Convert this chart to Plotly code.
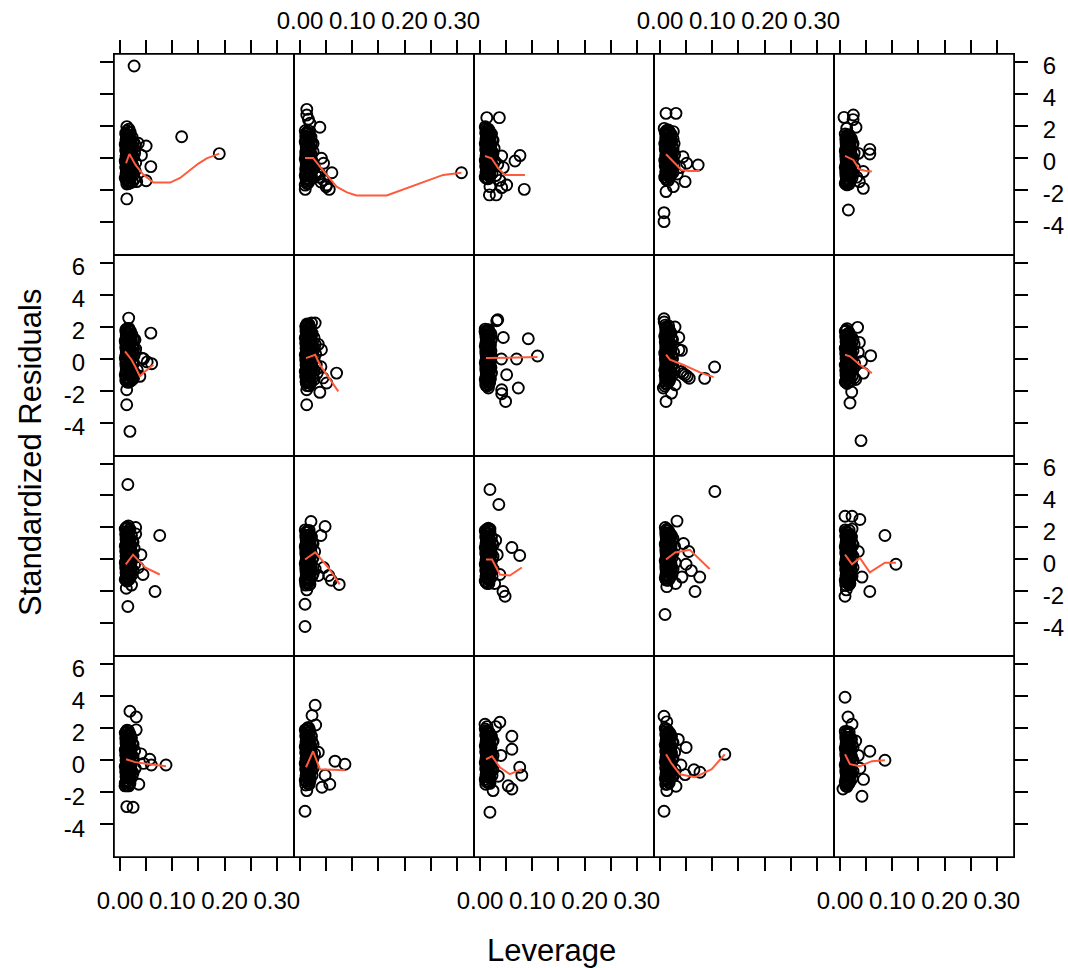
import plotly.graph_objects as go

# ---------------------------------------------------------------------------
# Standardized residuals vs leverage, one panel per model (4 rows x 5 columns).
# pts_*  : individual (leverage, standardized residual) pairs
# core_* : the dense low-leverage bulk of each panel, leverage -> residuals
# fit_*  : smoother through each panel
# ---------------------------------------------------------------------------

pts_r1c1 = [(0.027, 5.75), (0.118, 1.33), (0.190, 0.27), (0.013, -2.56), (0.059, -0.54), (0.050, 0.75),
            (0.041, 0.17), (0.050, -1.42), (0.032, -1.48), (0.013, -1.63), (0.013, 1.96), (0.035, 0.92),
            (0.011, 1.55), (0.012, 1.2), (0.010, 0.85), (0.011, 0.5), (0.012, 0.15), (0.010, -0.2), (0.011, -0.55),
            (0.012, -0.9), (0.010, -1.25), (0.017, 1.8), (0.016, 1.4), (0.018, 1.05), (0.017, 0.7), (0.016, 0.35),
            (0.018, 0.0), (0.017, -0.35), (0.016, -0.7), (0.018, -1.05), (0.017, -1.4), (0.016, -1.6), (0.023, 1.3),
            (0.022, 0.95), (0.024, 0.6), (0.023, 0.25), (0.022, -0.1), (0.024, -0.45), (0.023, -0.8), (0.022, -1.15),
            (0.024, -1.5), (0.029, 0.8), (0.028, 0.3), (0.030, -0.3), (0.029, -0.8), (0.028, -1.3)]
core_r1c1 = {0.0115: [1.46, 1.11, 0.76, 0.41, 0.06, -0.29, -0.64, -0.99, -1.34],
             0.0135: [1.7, 1.38, 1.02, 0.68, 0.32, -0.02, -0.38, -0.72, -1.08, -1.42],
             0.0175: [1.62, 1.27, 0.92, 0.57, 0.22, -0.13, -0.48, -0.83, -1.18, -1.5],
             0.0195: [1.6, 1.22, 0.88, 0.52, 0.18, -0.18, -0.52, -0.88, -1.22, -1.55],
             0.026: [1.0, 0.62, 0.08, -0.62, -1.05]}
fit_r1c1 = [(0.0115, -0.33), (0.018, 0.25), (0.030, -0.45), (0.045, -1.05), (0.064, -1.54), (0.096, -1.54),
            (0.115, -1.25), (0.134, -0.75), (0.150, -0.35), (0.166, -0.02), (0.190, 0.27)]

pts_r1c2 = [(0.013, 3.04), (0.013, 2.69), (0.016, 2.42), (0.019, 2.17), (0.038, 1.92), (0.041, -0.02), (0.045, -0.33),
            (0.061, -0.92), (0.038, -1.0), (0.045, -1.38), (0.051, -1.69), (0.056, -1.96), (0.050, -1.8), (0.010, -1.96),
            (0.010, -1.7), (0.309, -0.92), (0.033, -0.9), (0.036, -1.2), (0.040, -1.5), (0.028, -0.6), (0.030, -1.1),
            (0.010, 1.7), (0.011, 1.35), (0.010, 1.0), (0.012, 0.65), (0.011, 0.3), (0.010, -0.05), (0.012, -0.4),
            (0.011, -0.75), (0.010, -1.1), (0.012, -1.45), (0.016, 1.55), (0.017, 1.2), (0.015, 0.85), (0.016, 0.5),
            (0.017, 0.15), (0.015, -0.2), (0.016, -0.55), (0.017, -0.9), (0.015, -1.25), (0.016, -1.55), (0.021, 1.3),
            (0.022, 0.95), (0.020, 0.6), (0.021, 0.25), (0.022, -0.1), (0.020, -0.45), (0.021, -0.8), (0.022, -1.15)]
core_r1c2 = {0.0115: [1.52, 1.17, 0.82, 0.47, 0.12, -0.23, -0.58, -0.93, -1.28],
             0.0135: [1.62, 1.18, 0.82, 0.48, 0.12, -0.22, -0.58, -0.92, -1.28, -1.6],
             0.0175: [1.68, 1.33, 0.98, 0.63, 0.28, -0.07, -0.42, -0.77, -1.12, -1.42],
             0.0185: [1.45, 1.08, 0.72, 0.38, 0.02, -0.32, -0.68, -1.02, -1.38],
             0.025: [0.9, 0.4, -0.3, -0.7]}
fit_r1c2 = [(0.0096, 0.0), (0.025, 0.0), (0.038, -0.54), (0.052, -1.1), (0.070, -1.79), (0.090, -2.15), (0.108, -2.35),
            (0.166, -2.35), (0.200, -1.95), (0.229, -1.58), (0.274, -1.06), (0.309, -0.92)]

pts_r1c3 = [(0.013, 2.52), (0.037, 2.52), (0.0765, 0.15), (0.067, -0.19), (0.0415, 0.125), (0.0446, -0.6),
            (0.0847, -1.96), (0.051, -1.69), (0.0415, -1.85), (0.019, -1.79), (0.018, -2.31), (0.031, -2.31),
            (0.038, -1.4), (0.030, -1.1), (0.034, -0.4),
            (0.010, 1.95), (0.011, 1.6), (0.012, 1.25), (0.010, 0.9), (0.011, 0.55), (0.012, 0.2), (0.010, -0.15),
            (0.011, -0.5), (0.012, -0.85), (0.010, -1.2), (0.016, 1.8), (0.017, 1.45), (0.015, 1.1), (0.016, 0.75),
            (0.017, 0.4), (0.015, 0.05), (0.016, -0.3), (0.017, -0.65), (0.015, -1.0), (0.016, -1.3), (0.022, 1.5),
            (0.023, 1.15), (0.021, 0.8), (0.022, 0.45), (0.023, 0.1), (0.021, -0.25), (0.022, -0.6), (0.023, -0.95),
            (0.027, 0.6), (0.028, -0.2)]
core_r1c3 = {0.0115: [1.86, 1.51, 1.16, 0.81, 0.46, 0.11, -0.24, -0.59, -0.94, -1.25],
             0.0135: [1.78, 1.42, 1.08, 0.72, 0.38, 0.02, -0.32, -0.68, -1.02, -1.3],
             0.0175: [1.7, 1.35, 1.0, 0.65, 0.3, -0.05, -0.4, -0.75, -1.1],
             0.019: [1.62, 1.28, 0.92, 0.58, 0.22, -0.12, -0.48, -0.82, -1.15],
             0.025: [1.1, 0.3, -0.5]}
fit_r1c3 = [(0.0096, 0.125), (0.022, -0.02), (0.035, -0.65), (0.048, -1.06), (0.086, -1.06)]

pts_r1c4 = [(0.0115, 2.79), (0.0306, 2.79), (0.0077, -3.42), (0.0077, -3.98), (0.073, -0.44), (0.048, -1.48),
            (0.0255, -1.79), (0.0115, -2.1), (0.044, 0.08), (0.051, -0.33), (0.008, 1.85), (0.0255, 1.65),
            (0.033, -1.0), (0.038, -0.6),
            (0.010, 1.6), (0.011, 1.25), (0.009, 0.9), (0.010, 0.55), (0.011, 0.2), (0.009, -0.15), (0.010, -0.5),
            (0.011, -0.85), (0.009, -1.2), (0.016, 1.75), (0.015, 1.4), (0.017, 1.05), (0.016, 0.7), (0.015, 0.35),
            (0.017, 0.0), (0.016, -0.35), (0.015, -0.7), (0.017, -1.05), (0.016, -1.4), (0.022, 1.45), (0.021, 1.1),
            (0.023, 0.75), (0.022, 0.4), (0.021, 0.05), (0.023, -0.3), (0.022, -0.65), (0.021, -1.0), (0.027, 0.9),
            (0.028, 0.2), (0.027, -0.5)]
core_r1c4 = {0.0115: [1.5, 1.15, 0.8, 0.45, 0.1, -0.25, -0.6, -0.95, -1.3],
             0.0125: [1.72, 1.42, 1.08, 0.72, 0.38, 0.02, -0.32, -0.68, -1.02, -1.38],
             0.0175: [1.62, 1.27, 0.92, 0.57, 0.22, -0.13, -0.48, -0.83, -1.18],
             0.019: [1.58, 1.22, 0.88, 0.52, 0.18, -0.18, -0.52, -0.88, -1.2],
             0.025: [1.2, 0.55, -0.15, -0.9]}
fit_r1c4 = [(0.0115, 0.23), (0.022, -0.125), (0.041, -0.75), (0.055, -0.81), (0.076, -0.81)]

pts_r1c5 = [(0.0077, 2.54), (0.0255, 2.69), (0.025, 2.4), (0.0306, 1.92), (0.0128, 1.85), (0.057, 0.54),
            (0.057, 0.25), (0.035, 0.29), (0.0446, -0.85), (0.0446, -1.9), (0.037, -1.48), (0.0128, -1.63),
            (0.016, -3.25), (0.032, -1.2),
            (0.010, 1.5), (0.011, 1.15), (0.012, 0.8), (0.010, 0.45), (0.011, 0.1), (0.012, -0.25), (0.010, -0.6),
            (0.011, -0.95), (0.012, -1.3), (0.010, -1.6), (0.016, 1.35), (0.017, 1.0), (0.015, 0.65), (0.016, 0.3),
            (0.017, -0.05), (0.015, -0.4), (0.016, -0.75), (0.017, -1.1), (0.015, -1.45), (0.022, 1.2), (0.023, 0.85),
            (0.021, 0.5), (0.022, 0.15), (0.023, -0.2), (0.021, -0.55), (0.022, -0.9), (0.023, -1.25), (0.027, 0.3),
            (0.028, -0.6)]
core_r1c5 = {0.0115: [1.3, 0.95, 0.6, 0.25, -0.1, -0.45, -0.8, -1.15, -1.5],
             0.0135: [1.42, 1.08, 0.72, 0.38, 0.02, -0.32, -0.68, -1.02, -1.38, -1.68],
             0.0175: [1.45, 1.1, 0.75, 0.4, 0.05, -0.3, -0.65, -1.0, -1.35, -1.62],
             0.019: [1.28, 0.92, 0.58, 0.22, -0.12, -0.48, -0.82, -1.18, -1.5],
             0.025: [0.9, 0.0, -1.0]}
fit_r1c5 = [(0.0096, 0.125), (0.0255, -0.125), (0.037, -0.71), (0.048, -0.8), (0.061, -0.85)]

pts_r2c1 = [(0.0166, 2.54), (0.059, 1.6), (0.0606, -0.31), (0.0415, 0.04), (0.045, 0.0), (0.0287, 1.19),
            (0.016, -1.48), (0.0128, -1.94), (0.0128, -2.88), (0.019, -4.54), (0.038, -1.1), (0.033, -0.7),
            (0.030, 0.6), (0.052, -0.2),
            (0.011, 1.8), (0.012, 1.45), (0.010, 1.1), (0.011, 0.75), (0.012, 0.4), (0.010, 0.05), (0.011, -0.3),
            (0.012, -0.65), (0.010, -1.0), (0.011, -1.35), (0.017, 1.9), (0.016, 1.55), (0.018, 1.2), (0.017, 0.85),
            (0.016, 0.5), (0.018, 0.15), (0.017, -0.2), (0.016, -0.55), (0.018, -0.9), (0.017, -1.25), (0.023, 1.5),
            (0.022, 1.15), (0.024, 0.8), (0.023, 0.45), (0.022, 0.1), (0.024, -0.25), (0.023, -0.6), (0.022, -0.95),
            (0.024, -1.3), (0.027, 0.2), (0.028, -0.9)]
core_r2c1 = {0.0115: [1.65, 1.3, 0.95, 0.6, 0.25, -0.1, -0.45, -0.8, -1.15],
             0.0135: [1.88, 1.62, 1.28, 0.92, 0.58, 0.22, -0.12, -0.48, -0.82, -1.18, -1.45],
             0.0175: [1.78, 1.43, 1.08, 0.73, 0.38, 0.03, -0.32, -0.67, -1.02, -1.35],
             0.020: [1.72, 1.38, 1.02, 0.68, 0.32, -0.02, -0.38, -0.72, -1.08, -1.4],
             0.026: [1.2, 0.6, -0.3, -1.2]}
fit_r2c1 = [(0.0096, 0.46), (0.022, -0.06), (0.030, -0.55), (0.038, -1.1), (0.048, -0.79), (0.0637, -0.375)]

pts_r2c2 = [(0.022, 2.23), (0.029, 2.23), (0.0128, 2.02), (0.022, 1.5), (0.041, 0.56), (0.070, -0.9), (0.038, -2.1),
            (0.0128, -1.94), (0.0128, -2.88), (0.051, -1.52), (0.0128, -1.5), (0.044, -1.2), (0.040, -0.5),
            (0.035, 0.9),
            (0.011, 2.0), (0.012, 1.65), (0.010, 1.3), (0.011, 0.95), (0.012, 0.6), (0.010, 0.25), (0.011, -0.1),
            (0.012, -0.45), (0.010, -0.8), (0.011, -1.15), (0.012, -1.5), (0.017, 2.15), (0.016, 1.8), (0.018, 1.45),
            (0.017, 1.1), (0.016, 0.75), (0.018, 0.4), (0.017, 0.05), (0.016, -0.3), (0.018, -0.65), (0.017, -1.0),
            (0.016, -1.35), (0.018, -1.7), (0.023, 1.6), (0.022, 1.25), (0.024, 0.9), (0.023, 0.55), (0.022, 0.2),
            (0.024, -0.15), (0.023, -0.5), (0.022, -0.85), (0.024, -1.2), (0.029, 0.9), (0.030, 0.3), (0.031, -0.4),
            (0.033, -0.9)]
core_r2c2 = {0.0115: [2.08, 1.73, 1.38, 1.03, 0.68, 0.33, -0.02, -0.37, -0.72, -1.07, -1.42],
             0.0135: [2.18, 1.82, 1.48, 1.12, 0.78, 0.42, 0.08, -0.28, -0.62, -0.98, -1.32, -1.68],
             0.0175: [1.98, 1.63, 1.28, 0.93, 0.58, 0.23, -0.12, -0.47, -0.82, -1.17, -1.52],
             0.020: [1.92, 1.58, 1.22, 0.88, 0.52, 0.18, -0.18, -0.52, -0.88, -1.22, -1.55],
             0.027: [1.3, 0.6, 0.0, -0.7, -1.3]}
fit_r2c2 = [(0.0115, 0.04), (0.029, 0.25), (0.038, -0.375), (0.055, -1.2), (0.0733, -2.04)]

pts_r2c3 = [(0.032, 2.375), (0.034, 2.44), (0.0096, 1.7), (0.0446, 1.33), (0.0924, 1.25), (0.110, 0.17),
            (0.070, -0.02), (0.041, -0.02), (0.051, -1.0), (0.0733, -1.83), (0.0415, -1.94), (0.0415, -2.19),
            (0.049, -2.67), (0.016, -1.83),
            (0.010, 1.85), (0.011, 1.5), (0.012, 1.15), (0.010, 0.8), (0.011, 0.45), (0.012, 0.1), (0.010, -0.25),
            (0.011, -0.6), (0.012, -0.95), (0.010, -1.3), (0.011, -1.65), (0.016, 1.7), (0.017, 1.35), (0.015, 1.0),
            (0.016, 0.65), (0.017, 0.3), (0.015, -0.05), (0.016, -0.4), (0.017, -0.75), (0.015, -1.1), (0.016, -1.45),
            (0.021, 1.55), (0.022, 1.2), (0.020, 0.85), (0.021, 0.5), (0.022, 0.15), (0.020, -0.2), (0.021, -0.55),
            (0.022, -0.9), (0.020, -1.25)]
core_r2c3 = {0.0115: [1.68, 1.33, 0.98, 0.63, 0.28, -0.07, -0.42, -0.77, -1.12, -1.47],
             0.0135: [1.78, 1.42, 1.08, 0.72, 0.38, 0.02, -0.32, -0.68, -1.02, -1.38, -1.72],
             0.0165: [1.82, 1.47, 1.12, 0.77, 0.42, 0.07, -0.28, -0.63, -0.98, -1.33, -1.62],
             0.0185: [1.62, 1.28, 0.92, 0.58, 0.22, -0.12, -0.48, -0.82, -1.18, -1.5]}
fit_r2c3 = [(0.0115, 0.04), (0.030, 0.06), (0.060, 0.07), (0.110, 0.10)]

pts_r2c4 = [(0.0077, 2.5), (0.008, 2.3), (0.0287, 1.98), (0.036, 1.33), (0.041, 0.52), (0.036, 0.56),
            (0.1045, -0.52), (0.0855, -1.23), (0.040, -0.8), (0.044, -0.92), (0.048, -1.0), (0.052, -1.1),
            (0.056, -1.22), (0.0115, -2.67), (0.022, -2.15), (0.0064, -1.83), (0.029, -1.63),
            (0.010, 2.1), (0.011, 1.75), (0.009, 1.4), (0.010, 1.05), (0.011, 0.7), (0.009, 0.35), (0.010, 0.0),
            (0.011, -0.35), (0.009, -0.7), (0.010, -1.05), (0.011, -1.4), (0.009, -1.7), (0.015, 1.9), (0.016, 1.55),
            (0.014, 1.2), (0.015, 0.85), (0.016, 0.5), (0.014, 0.15), (0.015, -0.2), (0.016, -0.55), (0.014, -0.9),
            (0.015, -1.25), (0.021, 1.6), (0.022, 1.25), (0.020, 0.9), (0.021, 0.55), (0.022, 0.2), (0.020, -0.15),
            (0.021, -0.5), (0.022, -0.85), (0.020, -1.2), (0.026, 0.4), (0.027, -0.7)]
core_r2c4 = {0.011: [1.92, 1.57, 1.22, 0.87, 0.52, 0.17, -0.18, -0.53, -0.88, -1.23, -1.58],
             0.0125: [2.0, 1.62, 1.28, 0.92, 0.58, 0.22, -0.12, -0.48, -0.82, -1.18, -1.55],
             0.0165: [2.05, 1.7, 1.35, 1.0, 0.65, 0.3, -0.05, -0.4, -0.75, -1.1, -1.45],
             0.018: [1.78, 1.42, 1.08, 0.72, 0.38, 0.02, -0.32, -0.68, -1.02, -1.38],
             0.024: [1.2, 0.0, -0.4, -1.0]}
fit_r2c4 = [(0.0115, 0.25), (0.019, -0.06), (0.044, -0.375), (0.0765, -0.85), (0.1026, -1.15)]

pts_r2c5 = [(0.0337, 1.96), (0.0587, 0.19), (0.041, -0.17), (0.0446, -0.9), (0.0224, -2.08), (0.0191, -2.77),
            (0.0402, -5.12), (0.037, 1.02), (0.030, -1.3), (0.035, 0.4),
            (0.010, 1.7), (0.011, 1.35), (0.012, 1.0), (0.010, 0.65), (0.011, 0.3), (0.012, -0.05), (0.010, -0.4),
            (0.011, -0.75), (0.012, -1.1), (0.010, -1.45), (0.016, 1.55), (0.017, 1.2), (0.015, 0.85), (0.016, 0.5),
            (0.017, 0.15), (0.015, -0.2), (0.016, -0.55), (0.017, -0.9), (0.015, -1.25), (0.022, 1.35), (0.023, 1.0),
            (0.021, 0.65), (0.022, 0.3), (0.023, -0.05), (0.021, -0.4), (0.022, -0.75), (0.023, -1.1), (0.027, 0.9),
            (0.028, -0.3), (0.027, -1.2)]
core_r2c5 = {0.0115: [1.78, 1.43, 1.08, 0.73, 0.38, 0.03, -0.32, -0.67, -1.02, -1.37],
             0.0135: [1.88, 1.52, 1.18, 0.82, 0.48, 0.12, -0.22, -0.58, -0.92, -1.28, -1.55],
             0.0175: [1.62, 1.27, 0.92, 0.57, 0.22, -0.13, -0.48, -0.83, -1.18, -1.45],
             0.019: [1.45, 1.08, 0.72, 0.38, 0.02, -0.32, -0.68, -1.02, -1.38],
             0.025: [1.2, 0.5, -0.6]}
fit_r2c5 = [(0.0096, 0.25), (0.019, 0.15), (0.038, -0.375), (0.061, -0.9)]

pts_r3c1 = [(0.015, 4.69), (0.076, 1.5), (0.067, -2.0), (0.015, -2.94), (0.044, -0.94), (0.030, 2.0), (0.030, 1.6),
            (0.040, 0.3), (0.035, -0.5), (0.012, -1.8), (0.022, -1.6),
            (0.010, 1.9), (0.011, 1.55), (0.012, 1.2), (0.010, 0.85), (0.011, 0.5), (0.012, 0.15), (0.010, -0.2),
            (0.011, -0.55), (0.012, -0.9), (0.010, -1.25), (0.016, 2.1), (0.017, 1.7), (0.015, 1.35), (0.016, 1.0),
            (0.017, 0.65), (0.015, 0.3), (0.016, -0.05), (0.017, -0.4), (0.015, -0.75), (0.016, -1.1), (0.022, 1.5),
            (0.023, 1.15), (0.021, 0.8), (0.022, 0.45), (0.023, 0.1), (0.021, -0.25), (0.022, -0.6), (0.023, -0.95),
            (0.027, 0.7), (0.028, -0.3)]
core_r3c1 = {0.0115: [1.98, 1.63, 1.28, 0.93, 0.58, 0.23, -0.12, -0.47, -0.82, -1.17],
             0.0135: [2.02, 1.72, 1.38, 1.02, 0.68, 0.32, -0.02, -0.38, -0.72, -1.08, -1.35],
             0.0175: [1.85, 1.5, 1.15, 0.8, 0.45, 0.1, -0.25, -0.6, -0.95, -1.25],
             0.019: [1.88, 1.32, 0.98, 0.62, 0.28, -0.08, -0.42, -0.78, -1.12],
             0.025: [1.1, 0.2, -0.7]}
fit_r3c1 = [(0.011, -0.3), (0.025, 0.3), (0.048, -0.5), (0.076, -0.94)]

pts_r3c2 = [(0.021, 2.375), (0.048, 2.06), (0.0096, -4.19), (0.0096, -2.8), (0.075, -1.56), (0.040, 1.5),
            (0.045, -0.5), (0.055, -1.0), (0.060, -1.3), (0.035, -1.0), (0.013, -1.9),
            (0.010, 1.85), (0.011, 1.5), (0.012, 1.15), (0.010, 0.8), (0.011, 0.45), (0.012, 0.1), (0.010, -0.25),
            (0.011, -0.6), (0.012, -0.95), (0.010, -1.3), (0.011, -1.6), (0.016, 1.7), (0.017, 1.35), (0.015, 1.0),
            (0.016, 0.65), (0.017, 0.3), (0.015, -0.05), (0.016, -0.4), (0.017, -0.75), (0.015, -1.1), (0.016, -1.45),
            (0.022, 1.4), (0.023, 1.05), (0.021, 0.7), (0.022, 0.35), (0.023, 0.0), (0.021, -0.35), (0.022, -0.7),
            (0.023, -1.05), (0.028, 0.5), (0.029, -0.6)]
core_r3c2 = {0.0115: [1.68, 1.33, 0.98, 0.63, 0.28, -0.07, -0.42, -0.77, -1.12, -1.47],
             0.0135: [1.78, 1.32, 0.98, 0.62, 0.28, -0.08, -0.42, -0.78, -1.12, -1.48],
             0.0175: [1.82, 1.47, 1.12, 0.77, 0.42, 0.07, -0.28, -0.63, -0.98, -1.33, -1.58],
             0.019: [1.55, 1.22, 0.88, 0.52, 0.18, -0.18, -0.52, -0.88, -1.22, -1.55],
             0.025: [1.0, 0.1, -0.9]}
fit_r3c2 = [(0.0096, 0.0), (0.029, 0.44), (0.054, -0.5), (0.076, -1.56)]

pts_r3c3 = [(0.019, 4.375), (0.036, 3.44), (0.019, 1.9), (0.061, 0.75), (0.076, 0.25), (0.038, -0.94), (0.044, -2.0),
            (0.048, -2.3), (0.030, 1.2), (0.033, 0.3), (0.028, -1.5),
            (0.010, 1.8), (0.011, 1.45), (0.012, 1.1), (0.010, 0.75), (0.011, 0.4), (0.012, 0.05), (0.010, -0.3),
            (0.011, -0.65), (0.012, -1.0), (0.010, -1.35), (0.016, 1.95), (0.017, 1.6), (0.015, 1.25), (0.016, 0.9),
            (0.017, 0.55), (0.015, 0.2), (0.016, -0.15), (0.017, -0.5), (0.015, -0.85), (0.016, -1.2), (0.017, -1.5),
            (0.022, 1.4), (0.023, 1.05), (0.021, 0.7), (0.022, 0.35), (0.023, 0.0), (0.021, -0.35), (0.022, -0.7),
            (0.023, -1.05)]
core_r3c3 = {0.0115: [1.7, 1.35, 1.0, 0.65, 0.3, -0.05, -0.4, -0.75, -1.1, -1.42],
             0.0135: [1.9, 1.62, 1.28, 0.92, 0.58, 0.22, -0.12, -0.48, -0.82, -1.18, -1.5],
             0.0175: [1.85, 1.5, 1.15, 0.8, 0.45, 0.1, -0.25, -0.6, -0.95, -1.3],
             0.019: [1.75, 1.22, 0.88, 0.52, 0.18, -0.18, -0.52, -0.88, -1.22],
             0.025: [0.9, 0.2, -0.6]}
fit_r3c3 = [(0.0115, 0.0), (0.023, 0.0), (0.038, -0.94), (0.057, -1.0), (0.080, -0.5)]

pts_r3c4 = [(0.105, 4.25), (0.0096, -3.44), (0.0325, 2.4), (0.076, -1.1), (0.067, -2.0), (0.042, -1.1), (0.045, 1.0),
            (0.055, 0.5), (0.050, -0.3), (0.060, -0.7), (0.030, -1.5), (0.013, -1.7),
            (0.010, 2.0), (0.011, 1.65), (0.012, 1.3), (0.010, 0.95), (0.011, 0.6), (0.012, 0.25), (0.010, -0.1),
            (0.011, -0.45), (0.012, -0.8), (0.010, -1.15), (0.016, 1.8), (0.017, 1.45), (0.015, 1.1), (0.016, 0.75),
            (0.017, 0.4), (0.015, 0.05), (0.016, -0.3), (0.017, -0.65), (0.015, -1.0), (0.016, -1.3), (0.022, 1.5),
            (0.023, 1.15), (0.021, 0.8), (0.022, 0.45), (0.023, 0.1), (0.021, -0.25), (0.022, -0.6), (0.023, -0.95),
            (0.028, 0.8), (0.029, -0.2)]
core_r3c4 = {0.0115: [1.82, 1.47, 1.12, 0.77, 0.42, 0.07, -0.28, -0.63, -0.98, -1.28],
             0.0135: [1.9, 1.52, 1.18, 0.82, 0.48, 0.12, -0.22, -0.58, -0.92, -1.28],
             0.0175: [1.68, 1.33, 0.98, 0.63, 0.28, -0.07, -0.42, -0.77, -1.12],
             0.019: [1.62, 1.28, 0.92, 0.58, 0.22, -0.12, -0.48, -0.82, -1.15],
             0.025: [1.3, 0.4, -0.6]}
fit_r3c4 = [(0.0115, 0.0), (0.029, 0.44), (0.057, 0.6), (0.095, -0.6)]

pts_r3c5 = [(0.0096, 2.7), (0.023, 2.7), (0.038, 2.5), (0.086, 1.5), (0.107, -0.3), (0.057, -2.0), (0.042, -1.1),
            (0.0096, -2.3), (0.023, 1.9), (0.012, -1.9), (0.035, 0.5),
            (0.010, 1.85), (0.011, 1.5), (0.012, 1.15), (0.010, 0.8), (0.011, 0.45), (0.012, 0.1), (0.010, -0.25),
            (0.011, -0.6), (0.012, -0.95), (0.010, -1.3), (0.011, -1.6), (0.016, 1.65), (0.017, 1.3), (0.015, 0.95),
            (0.016, 0.6), (0.017, 0.25), (0.015, -0.1), (0.016, -0.45), (0.017, -0.8), (0.015, -1.15), (0.016, -1.5),
            (0.022, 1.4), (0.023, 1.05), (0.021, 0.7), (0.022, 0.35), (0.023, 0.0), (0.021, -0.35), (0.022, -0.7),
            (0.023, -1.05)]
core_r3c5 = {0.0115: [1.75, 1.4, 1.05, 0.7, 0.35, 0.0, -0.35, -0.7, -1.05, -1.4],
             0.0135: [1.68, 1.32, 0.98, 0.62, 0.28, -0.08, -0.42, -0.78, -1.12, -1.45],
             0.0175: [1.82, 1.47, 1.12, 0.77, 0.42, 0.07, -0.28, -0.63, -0.98, -1.33, -1.58],
             0.019: [1.55, 1.22, 0.88, 0.52, 0.18, -0.18, -0.52, -0.88, -1.22, -1.5],
             0.025: [0.9, 0.2, -0.5]}
fit_r3c5 = [(0.0096, 0.3), (0.023, -0.3), (0.038, 0.1), (0.057, -0.8), (0.086, -0.2), (0.107, -0.2)]

pts_r4c1 = [(0.019, 3.06), (0.031, 2.7), (0.031, 1.9), (0.088, -0.3), (0.057, 0.06), (0.060, -0.3), (0.036, -1.5),
            (0.0096, -1.6), (0.013, -2.9), (0.025, -2.94), (0.040, 0.4), (0.045, -0.2),
            (0.010, 1.7), (0.011, 1.35), (0.012, 1.0), (0.010, 0.65), (0.011, 0.3), (0.012, -0.05), (0.010, -0.4),
            (0.011, -0.75), (0.012, -1.1), (0.010, -1.45), (0.016, 1.85), (0.017, 1.5), (0.015, 1.15), (0.016, 0.8),
            (0.017, 0.45), (0.015, 0.1), (0.016, -0.25), (0.017, -0.6), (0.015, -0.95), (0.016, -1.3), (0.017, -1.6),
            (0.022, 1.4), (0.023, 1.05), (0.021, 0.7), (0.022, 0.35), (0.023, 0.0), (0.021, -0.35), (0.022, -0.7),
            (0.023, -1.05), (0.028, 0.6), (0.029, -0.5)]
core_r4c1 = {0.0115: [1.78, 1.43, 1.08, 0.73, 0.38, 0.03, -0.32, -0.67, -1.02, -1.37],
             0.0135: [1.88, 1.52, 1.18, 0.82, 0.48, 0.12, -0.22, -0.58, -0.92, -1.28, -1.6],
             0.0175: [1.7, 1.35, 1.0, 0.65, 0.3, -0.05, -0.4, -0.75, -1.1, -1.45],
             0.019: [1.62, 1.28, 0.92, 0.58, 0.22, -0.12, -0.48, -0.82, -1.18, -1.45],
             0.025: [1.0, 0.2, -0.8]}
fit_r4c1 = [(0.0115, 0.06), (0.029, -0.12), (0.057, -0.25), (0.088, -0.375)]

pts_r4c2 = [(0.029, 3.44), (0.023, 2.8), (0.0096, -3.19), (0.067, -0.06), (0.086, -0.25), (0.048, -0.94),
            (0.042, -1.69), (0.057, -1.5), (0.030, 2.2), (0.035, 0.5), (0.013, -1.9),
            (0.010, 1.9), (0.011, 1.55), (0.012, 1.2), (0.010, 0.85), (0.011, 0.5), (0.012, 0.15), (0.010, -0.2),
            (0.011, -0.55), (0.012, -0.9), (0.010, -1.25), (0.011, -1.55), (0.016, 2.05), (0.017, 1.7), (0.015, 1.35),
            (0.016, 1.0), (0.017, 0.65), (0.015, 0.3), (0.016, -0.05), (0.017, -0.4), (0.015, -0.75), (0.016, -1.1),
            (0.017, -1.45), (0.022, 1.5), (0.023, 1.15), (0.021, 0.8), (0.022, 0.45), (0.023, 0.1), (0.021, -0.25),
            (0.022, -0.6), (0.023, -0.95), (0.028, 0.4)]
core_r4c2 = {0.0115: [1.82, 1.47, 1.12, 0.77, 0.42, 0.07, -0.28, -0.63, -0.98, -1.33],
             0.0135: [1.98, 1.72, 1.38, 1.02, 0.68, 0.32, -0.02, -0.38, -0.72, -1.08, -1.42],
             0.0175: [1.95, 1.6, 1.25, 0.9, 0.55, 0.2, -0.15, -0.5, -0.85, -1.2, -1.52],
             0.019: [1.78, 1.32, 0.98, 0.62, 0.28, -0.08, -0.42, -0.78, -1.12, -1.3],
             0.025: [1.0, 0.1, -0.5]}
fit_r4c2 = [(0.0115, -0.44), (0.025, 0.56), (0.038, -0.56), (0.086, -0.625)]

pts_r4c3 = [(0.0096, 2.25), (0.038, 2.375), (0.061, 1.5), (0.061, 0.69), (0.076, -0.44), (0.080, -0.94),
            (0.054, -1.6), (0.061, -1.8), (0.019, -3.25), (0.030, 2.1), (0.035, -1.0), (0.025, -1.9), (0.040, 0.3),
            (0.010, 1.95), (0.011, 1.6), (0.012, 1.25), (0.010, 0.9), (0.011, 0.55), (0.012, 0.2), (0.010, -0.15),
            (0.011, -0.5), (0.012, -0.85), (0.010, -1.2), (0.011, -1.5), (0.016, 1.8), (0.017, 1.45), (0.015, 1.1),
            (0.016, 0.75), (0.017, 0.4), (0.015, 0.05), (0.016, -0.3), (0.017, -0.65), (0.015, -1.0), (0.016, -1.35),
            (0.022, 1.5), (0.023, 1.15), (0.021, 0.8), (0.022, 0.45), (0.023, 0.1), (0.021, -0.25), (0.022, -0.6),
            (0.023, -0.95)]
core_r4c3 = {0.0115: [1.85, 1.5, 1.15, 0.8, 0.45, 0.1, -0.25, -0.6, -0.95, -1.3],
             0.0135: [2.1, 1.78, 1.42, 1.08, 0.72, 0.38, 0.02, -0.32, -0.68, -1.02, -1.38],
             0.0175: [1.72, 1.37, 1.02, 0.67, 0.32, -0.03, -0.38, -0.73, -1.08, -1.42],
             0.019: [1.65, 1.32, 0.98, 0.62, 0.28, -0.08, -0.42, -0.78, -1.12, -1.45],
             0.025: [1.2, 0.3, -0.6]}
fit_r4c3 = [(0.0115, 0.06), (0.023, 0.25), (0.038, -0.44), (0.057, -0.875), (0.080, -0.56)]

pts_r4c4 = [(0.0077, 2.75), (0.013, 2.4), (0.050, 0.8), (0.0765, -0.75), (0.124, 0.375), (0.0306, -1.63),
            (0.0077, -3.19), (0.048, -0.9), (0.065, -0.6), (0.035, 1.3), (0.040, -0.3), (0.013, -1.9),
            (0.010, 2.0), (0.011, 1.65), (0.012, 1.3), (0.010, 0.95), (0.011, 0.6), (0.012, 0.25), (0.010, -0.1),
            (0.011, -0.45), (0.012, -0.8), (0.010, -1.15), (0.011, -1.5), (0.016, 1.8), (0.017, 1.45), (0.015, 1.1),
            (0.016, 0.75), (0.017, 0.4), (0.015, 0.05), (0.016, -0.3), (0.017, -0.65), (0.015, -1.0), (0.016, -1.35),
            (0.022, 1.5), (0.023, 1.15), (0.021, 0.8), (0.022, 0.45), (0.023, 0.1), (0.021, -0.25), (0.022, -0.6),
            (0.023, -0.95), (0.028, 0.5), (0.029, -0.6)]
core_r4c4 = {0.0115: [1.88, 1.53, 1.18, 0.83, 0.48, 0.13, -0.22, -0.57, -0.92, -1.27],
             0.0135: [1.92, 1.62, 1.28, 0.92, 0.58, 0.22, -0.12, -0.48, -0.82, -1.18, -1.5],
             0.0175: [1.72, 1.37, 1.02, 0.67, 0.32, -0.03, -0.38, -0.73, -1.08, -1.42],
             0.019: [1.68, 1.32, 0.98, 0.62, 0.28, -0.08, -0.42, -0.78, -1.12],
             0.025: [1.1, 0.1, -1.0]}
fit_r4c4 = [(0.0115, 0.375), (0.022, -0.2), (0.038, -0.875), (0.067, -1.06), (0.099, -0.56), (0.124, 0.375)]

pts_r4c5 = [(0.0096, 3.94), (0.0153, 2.7), (0.023, 2.25), (0.057, 0.56), (0.086, 0.0), (0.042, -2.25),
            (0.0057, -1.8), (0.038, -0.5), (0.030, 1.2), (0.045, -1.2), (0.035, 0.3),
            (0.010, 1.8), (0.011, 1.45), (0.012, 1.1), (0.010, 0.75), (0.011, 0.4), (0.012, 0.05), (0.010, -0.3),
            (0.011, -0.65), (0.012, -1.0), (0.010, -1.35), (0.011, -1.6), (0.016, 1.6), (0.017, 1.25), (0.015, 0.9),
            (0.016, 0.55), (0.017, 0.2), (0.015, -0.15), (0.016, -0.5), (0.017, -0.85), (0.015, -1.2), (0.016, -1.5),
            (0.022, 1.3), (0.023, 0.95), (0.021, 0.6), (0.022, 0.25), (0.023, -0.1), (0.021, -0.45), (0.022, -0.8),
            (0.023, -1.15)]
core_r4c5 = {0.0115: [1.65, 1.3, 0.95, 0.6, 0.25, -0.1, -0.45, -0.8, -1.15, -1.5],
             0.0135: [1.78, 1.42, 1.08, 0.72, 0.38, 0.02, -0.32, -0.68, -1.02, -1.38, -1.65],
             0.0175: [1.75, 1.4, 1.05, 0.7, 0.35, 0.0, -0.35, -0.7, -1.05, -1.4],
             0.019: [1.45, 1.08, 0.72, 0.38, 0.02, -0.32, -0.68, -1.02, -1.35],
             0.025: [0.8, 0.0, -0.7]}
fit_r4c5 = [(0.0096, 0.375), (0.019, -0.25), (0.038, -0.375), (0.061, -0.06), (0.086, 0.0)]

x_tick_values = [0.00, 0.05, 0.10, 0.15, 0.20, 0.25, 0.30]
x_tick_labels = ["0.00", "", "0.10", "", "0.20", "", "0.30"]
y_tick_values = [-4, -2, 0, 2, 4, 6]
y_tick_labels = ["-4", "-2", "0", "2", "4", "6"]

points = [
    [pts_r1c1, pts_r1c2, pts_r1c3, pts_r1c4, pts_r1c5],
    [pts_r2c1, pts_r2c2, pts_r2c3, pts_r2c4, pts_r2c5],
    [pts_r3c1, pts_r3c2, pts_r3c3, pts_r3c4, pts_r3c5],
    [pts_r4c1, pts_r4c2, pts_r4c3, pts_r4c4, pts_r4c5],
]
cores = [
    [core_r1c1, core_r1c2, core_r1c3, core_r1c4, core_r1c5],
    [core_r2c1, core_r2c2, core_r2c3, core_r2c4, core_r2c5],
    [core_r3c1, core_r3c2, core_r3c3, core_r3c4, core_r3c5],
    [core_r4c1, core_r4c2, core_r4c3, core_r4c4, core_r4c5],
]
smooths = [
    [fit_r1c1, fit_r1c2, fit_r1c3, fit_r1c4, fit_r1c5],
    [fit_r2c1, fit_r2c2, fit_r2c3, fit_r2c4, fit_r2c5],
    [fit_r3c1, fit_r3c2, fit_r3c3, fit_r3c4, fit_r3c5],
    [fit_r4c1, fit_r4c2, fit_r4c3, fit_r4c4, fit_r4c5],
]

# ---------------------------------------------------------------------------
# Layout geometry (pixels)
# ---------------------------------------------------------------------------
W, H = 1068, 968
LEFT, COLW = 114, 180
TOP, ROWH = 54, 200.75
NROW, NCOL = 4, 5
X_RANGE = [-0.0115, 0.333]
Y_RANGE = [-6.05, 6.5]

FONT = "Liberation Sans, Arial, Helvetica, sans-serif"
TICK_FONT = dict(family=FONT, size=24, color="black")
LINE_COL = "#FF5A3C"
FRAME_W = 1.0

fig = go.Figure()
layout = {}

for r in range(NROW):
    for c in range(NCOL):
        i = r * NCOL + c + 1
        sfx = "" if i == 1 else str(i)
        xs = [p[0] for p in points[r][c]]
        ys = [p[1] for p in points[r][c]]
        for lev, resids in cores[r][c].items():
            xs += [lev] * len(resids)
            ys += resids
        fig.add_trace(go.Scatter(
            x=xs, y=ys, mode="markers", xaxis="x" + sfx, yaxis="y" + sfx,
            marker=dict(symbol="circle-open", size=11, color="black", line=dict(width=1.9)),
            hoverinfo="skip", showlegend=False,
        ))
        fx = [p[0] for p in smooths[r][c]]
        fy = [p[1] for p in smooths[r][c]]
        fig.add_trace(go.Scatter(
            x=fx, y=fy, mode="lines", xaxis="x" + sfx, yaxis="y" + sfx,
            line=dict(color=LINE_COL, width=2),
            hoverinfo="skip", showlegend=False,
        ))

        x0 = (LEFT + COLW * c) / W
        x1 = (LEFT + COLW * (c + 1)) / W
        ytop = TOP + ROWH * r
        ybot = ytop + ROWH

        x_has_ticks = r in (0, NROW - 1)
        x_labels = (r == 0 and c in (1, 3)) or (r == NROW - 1 and c in (0, 2, 4))
        layout["xaxis" + sfx] = dict(
            domain=[x0, x1], range=X_RANGE, anchor="y" + sfx, automargin=False,
            showline=True, mirror=True, linecolor="black", linewidth=FRAME_W,
            showgrid=False, zeroline=False, fixedrange=True,
            tickmode="array", tickvals=x_tick_values, ticktext=x_tick_labels, tickangle=0,
            ticks="outside" if x_has_ticks else "", ticklen=13, tickwidth=1.6, tickcolor="black",
            side="top" if r == 0 else "bottom",
            showticklabels=x_labels, tickfont=TICK_FONT,
            ticklabelstandoff=1 if r == 0 else 9,
        )

        y_has_ticks = c in (0, NCOL - 1)
        y_labels = (c == 0 and r in (1, 3)) or (c == NCOL - 1 and r in (0, 2))
        layout["yaxis" + sfx] = dict(
            domain=[1 - ybot / H, 1 - ytop / H], range=Y_RANGE, anchor="x" + sfx, automargin=False,
            showline=True, mirror=True, linecolor="black", linewidth=FRAME_W,
            showgrid=False, zeroline=False, fixedrange=True,
            tickmode="array", tickvals=y_tick_values, ticktext=y_tick_labels,
            ticks="outside" if y_has_ticks else "", ticklen=13, tickwidth=1.6, tickcolor="black",
            side="left" if c == 0 else "right",
            showticklabels=y_labels, tickfont=TICK_FONT,
            ticklabelstandoff=10, ticklabelshift=4,
        )

# outer border of the panel grid
layout["shapes"] = [
    dict(type="rect", xref="paper", yref="paper",
         x0=LEFT / W, x1=(LEFT + COLW * NCOL) / W,
         y0=1 - (TOP + ROWH * NROW) / H, y1=1 - TOP / H,
         line=dict(color="black", width=1.6), fillcolor="rgba(0,0,0,0)", layer="above"),
]

layout["annotations"] = [
    dict(text="Standardized Residuals", x=30 / W, y=1 - 453 / H, xref="paper", yref="paper",
         xanchor="center", yanchor="middle", textangle=-90, showarrow=False,
         font=dict(family=FONT, size=31, color="black")),
    dict(text="Leverage", x=551 / W, y=1 - 950 / H, xref="paper", yref="paper",
         xanchor="center", yanchor="middle", showarrow=False,
         font=dict(family=FONT, size=31, color="black")),
]

fig.update_layout(
    width=W, height=H, margin=dict(l=0, r=0, t=0, b=0),
    paper_bgcolor="white", plot_bgcolor="white", showlegend=False,
    **layout,
)

fig.write_html("out.html")
